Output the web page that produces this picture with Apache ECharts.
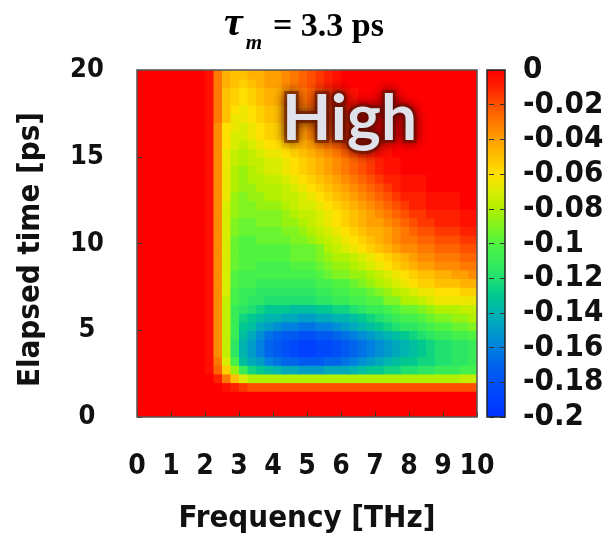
<!DOCTYPE html>
<html><head><meta charset="utf-8">
<script src="https://cdn.jsdelivr.net/npm/echarts@6/dist/echarts.min.js"></script>
<style>html,body{margin:0;padding:0;background:#fff}#c{width:614px;height:539px}</style>
</head><body><div id="c"></div>
<script>
// tick labels
const freqTicks = [0, 1, 2, 3, 4, 5, 6, 7, 8, 9, 10];
const timeTicks = [0, 5, 10, 15, 20];
const colorbarTicks = ['0', '-0.02', '-0.04', '-0.06', '-0.08', '-0.1', '-0.12', '-0.14', '-0.16', '-0.18', '-0.2'];

// cell centres: frequency 0.125..9.875 THz (0.25 steps), elapsed time 0.25..19.75 ps (0.5 steps)
const freqCells = Array.from({length: 40}, (_, i) => (0.125 + 0.25 * i).toFixed(3));
const timeCells = Array.from({length: 40}, (_, j) => (0.25 + 0.5 * j).toFixed(2));

// read-off magnitudes in units of 0.01 (value = -m/100); rows from t=0.25 (bottom) to t=19.75 (top)
const rowsHundredths = [
"0 0 0 0  0 0 0 0  0 0 0 0  0 0 0 0  0 0 0 0  0 0 0 0  0 0 0 0  0 0 0 0  0 0 0 0  0 0 0 0",
"0 0 0 0  0 0 0 0  0 0 0 0  0 0 0 0  0 0 0 0  0 0 0 0  0 0 0 0  0 0 0 0  0 0 0 0  0 0 0 0",
"0 0 0 0  0 0 0 0  0 0 0 0  0 0 0 0  0 0 0 0  0 0 0 0  0 0 0 0  0 0 0 0  0 0 0 0  0 0 0 0",
"0 0 0 0  0 0 0 0  0 0 0.5 1  1.5 2 2 2  2 2 2 2  2 2 2 2  2 2 2 2  2 2 2 2  2 2 2 2  2 2 2 2",
"0 0 0 0  0 0 0 0  0 1 3 5  7 8 8 8  8 8 8 8  8 8 8 8  8 8 8 8  8 8 8 8  8 8 8 8  8 8 7.5 7.5",
"0 0 0 0  0 0 0 0  0.5 2.5 5.5 8.5  11 12.5 13 13.5  14 14.5 14.5 15  15 15 14.5 14.5  14.5 14 13.5 13  13 12.5 12.5 12  12 11.5 11.5 11  11 11 10.5 10.5",
"0 0 0 0  0 0 0 0  0.5 3 7 10.5  13.5 14.5 15 16  16.5 17 17 17.5  17.5 17.5 17 17  16.5 16 15.5 15  14.5 14 13.5 13  13 12.5 12.5 12  12 11.5 11.5 11",
"0 0 0 0  0 0 0 0  0.5 3.5 7.5 11.5  14 15 16 17  17.5 18 18.5 19  19 18.5 18.5 18  17.5 17 16.5 16  15.5 15 14.5 14  13.5 13 12.5 12  12 11.5 11.5 11",
"0 0 0 0  0 0 0 0  0.5 3.5 7.5 11.5  14 15 16 17  17.5 18 18.5 19  19 18.5 18.5 18  17.5 17 16.5 16  15.5 15 14.5 14  13.5 13 12.5 12  12 11.5 11.5 11",
"0 0 0 0  0 0 0 0  0.5 3.5 7.5 11  13.5 14.5 15.5 16.5  17 17.5 17.5 18  18 17.5 17.5 17  16.5 16 15.5 15  14.5 14 13.5 13  12.5 12 11.5 11  11 10.5 10.5 10",
"0 0 0 0  0 0 0 0  0.5 3.5 7.5 11  13 13.5 14.5 15  15.5 16 16 16.5  16.5 16 16 15.5  15 14.5 14 13.5  13 12.5 12 11.5  11.5 11 10.5 10  10 9.5 9.5 9",
"0 0 0 0  0 0 0 0  0.5 3.5 7.5 11  12.5 13 13.5 14  14 14.5 14.5 15  15 14.5 14.5 14  14 13.5 13 12.5  12 11.5 11 10.5  10.5 10 9.5 9  9 8.5 8.5 8",
"0 0 0 0  0 0 0 0  0.5 3.5 7.5 11  11.5 12 12.5 13  13 13 13.5 13.5  13.5 13 13 12.5  12.5 12 11.5 11  11 10.5 10 9.5  9.5 9 8.5 8  8 8 7.5 7.5",
"0 0 0 0  0 0 0 0  0.5 3.5 7.5 10.5  11 11.5 11.5 12  12 12 12 12  12 11.5 11.5 11  11 10.5 10.5 10  10 9 9 8  8 7.5 7 6.5  6.5 6.5 6.5 6.5",
"0 0 0 0  0 0 0 0  0.5 3.5 7 10.5  11 11 11.5 11.5  11.5 11.5 11.5 11.5  11.5 11 11 10.5  10.5 10 10 9.5  9 8.5 8 7.5  7 6.5 6.5 6  6 6 5.5 5.5",
"0 0 0 0  0 0 0 0  0.5 3.5 7 10  10.5 10.5 11 11  11 11 11 11  11 10.5 10.5 10  10 9.5 9 8.5  8 7.5 7 6.5  6 5.5 5.5 5  5 5 4.5 4.5",
"0 0 0 0  0 0 0 0  0.5 3.5 7 10  10.5 10.5 10.5 10.5  10.5 10.5 10.5 10.5  10.5 10 9.5 9  9 8.5 8.5 8  7.5 7 6.5 6  5.5 5 5 4.5  4.5 4 4 3.5",
"0 0 0 0  0 0 0 0  0.5 3.5 7 9.5  10 10 10.5 10.5  10.5 10.5 10 10  10 9.5 9 8.5  8.5 8 7.5 7  6.5 6 5.5 5  4.5 4 4 3.5  3.5 3.5 3 3",
"0 0 0 0  0 0 0 0  0.5 3.5 7 9.5  10 10 10 10  10 10 9.5 9.5  9.5 9 8.5 8  8 7.5 7 6.5  6 5.5 5 4.5  4 3.5 3.5 3  3 3 2.5 2.5",
"0 0 0 0  0 0 0 0  0.5 3.5 7 9.5  10 10 10 10  10 10 9.5 9.5  9.5 9 8 7.5  7 6.5 6 5.5  5 4.5 4 3.5  3.5 3 3 2.5  2.5 2.5 2 2",
"0 0 0 0  0 0 0 0  0.5 3.5 7 9.5  10 10 9.5 9.5  9.5 9.5 9 9  8.5 8 7.5 7  6.5 6 5.5 5  4.5 4 3.5 3  3 2.5 2.5 2  2 2 1.5 1.5",
"0 0 0 0  0 0 0 0  0.5 3.5 7 9  9.5 9.5 9.5 9.5  9.5 9 9 8.5  8 7.5 7 6.5  6 5.5 5 4.5  4.5 4 3.5 3  2.5 2 2 1.5  1.5 1.5 1 1",
"0 0 0 0  0 0 0 0  0.5 3.5 7 9  9.5 9.5 9 9  9 8.5 8.5 8  7.5 7 6.5 6  5.5 5 4.5 4  4 3.5 3 2.5  2 1.5 1.5 1  1 1 0.5 0.5",
"0 0 0 0  0 0 0 0  0.5 3.5 7 8.5  9 9 9 9  9 8.5 8 7.5  7.5 7 6.5 6  5.5 5 4.5 4  3.5 3 2.5 2  1.5 1.5 1 1  1 1 0.5 0.5",
"0 0 0 0  0 0 0 0  0.5 3.5 7 8.5  9 9 8.5 8.5  8.5 8 7.5 7  7 6.5 6 5.5  5 4.5 4 3.5  3 2.5 2 1.5  1 1 0.5 0.5  0.5 0.5 0 0",
"0 0 0 0  0 0 0 0  0.5 3.5 6.5 8.5  9 8.5 8.5 8  8 7.5 7.5 7  6.5 6 5.5 5  4.5 4 3.5 3  2.5 2 1.5 1  1 1 0.5 0.5  0.5 0.5 0 0",
"0 0 0 0  0 0 0 0  0.5 3.5 6.5 8  8.5 8.5 8 8  8 7.5 7 6.5  6 5.5 5 4.5  4 3.5 3 2.5  2 1.5 1 0.5  0.5 0.5 0 0  0 0 0 0",
"0 0 0 0  0 0 0 0  0.5 3.5 6.5 8  8.5 8 8 7.5  7.5 7 6.5 6  5.5 5 4.5 4  3.5 3 2.5 2  1.5 1 1 0.5  0.5 0.5 0 0  0 0 0 0",
"0 0 0 0  0 0 0 0  0.5 3.5 6.5 8  8.5 8 7.5 7  7 6.5 6 5.5  5 4.5 4 3.5  3 2.5 2 1.5  1 0.5 0.5 0  0 0 0 0  0 0 0 0",
"0 0 0 0  0 0 0 0  0.5 3.5 6.5 7.5  8 7.5 7.5 7  7 6.5 6 5.5  5 4.5 4 3.5  3 2.5 2 1.5  1 0.5 0.5 0  0 0 0 0  0 0 0 0",
"0 0 0 0  0 0 0 0  0.5 3.5 6.5 7.5  8 7.5 7 6.5  6.5 6 5.5 5  4.5 4 3.5 3  2.5 2 1.5 1  0.5 0.5 0 0  0 0 0 0  0 0 0 0",
"0 0 0 0  0 0 0 0  0.5 3.5 6 7  7.5 7 6.5 6  6 5.5 5 4.5  4 3.5 3 2.5  2 1.5 1 0.5  0.5 0.5 0 0  0 0 0 0  0 0 0 0",
"0 0 0 0  0 0 0 0  0.5 3.5 6 7  7 6.5 6 5.5  5.5 5 4.5 4  3.5 3 2.5 2  1.5 1 0.5 0  0 0 0 0  0 0 0 0  0 0 0 0",
"0 0 0 0  0 0 0 0  0.5 3.5 6 6.5  7 6.5 6 5.5  5.5 5 4.5 4  3.5 3 2.5 2  1.5 1 0.5 0  0 0 0 0  0 0 0 0  0 0 0 0",
"0 0 0 0  0 0 0 0  0.5 3 5 6.5  6.5 6 5.5 5  5 4.5 4 3.5  3 2.5 2 1.5  1.5 1 0.5 0  0 0 0 0  0 0 0 0  0 0 0 0",
"0 0 0 0  0 0 0 0  0.5 3 5 6  6.5 6 5.5 5  5 4.5 4 3.5  3 2.5 2 1.5  1 0.5 0.5 0  0 0 0 0  0 0 0 0  0 0 0 0",
"0 0 0 0  0 0 0 0  0.5 3 5 5.5  6 5.5 5 4.5  4.5 4 3.5 3  2.5 2 1.5 1  0.5 0.5 0 0  0 0 0 0  0 0 0 0  0 0 0 0",
"0 0 0 0  0 0 0 0  0.5 3 5 5.5  6 5.5 5 4.5  4.5 4 3.5 3  2.5 2 1.5 1  0.5 0.5 0 0  0 0 0 0  0 0 0 0  0 0 0 0",
"0 0 0 0  0 0 0 0  0.5 3 4.5 5  5.5 5 4.5 4  4 3.5 3 2.5  2 1.5 1 0.5  0 0 0 0  0 0 0 0  0 0 0 0  0 0 0 0",
"0 0 0 0  0 0 0 0  0.5 3 4.5 5  5 4.5 4.5 4  4 3.5 3 2.5  2 1.5 1 0.5  0 0 0 0  0 0 0 0  0 0 0 0  0 0 0 0"
];

// colour stops from -0.20 (first) to 0 (last), every 0.01
const colorStops = ['#0030ff', '#0040ff', '#0050f8', '#0064ec', '#0080e0', '#009cc8', '#00b4b0', '#00c890', '#20e070', '#38ec58',
                    '#50f440', '#80f420', '#b0f000', '#d8ec00', '#ffe000', '#ffc000', '#ffa000', '#ff7800', '#ff5000', '#ff2000', '#ff0000'];

const heatData = [];
rowsHundredths.forEach((row, j) => {
  const vals = row.trim().split(/\s+/).map(Number);
  if (vals.length !== 40) throw new Error('row ' + j + ' has ' + vals.length);
  vals.forEach((m, i) => heatData.push([i, j, -m / 100]));
});

const tickFont = "'DejaVu Sans Condensed', 'DejaVu Sans'";
const chart = echarts.init(document.getElementById('c'), null, {renderer: 'canvas'});
chart.setOption({
  animation: false,
  backgroundColor: '#ffffff',
  title: {
    text: '{t|τ}{s|m}{e|= 3.3 ps}',
    left: 224, top: 13, padding: 0,
    textStyle: {
      rich: {
        t: {fontFamily: 'Liberation Serif', fontStyle: 'italic', fontWeight: 'bold', fontSize: 42, color: '#000',
            lineHeight: 42, verticalAlign: 'bottom', padding: [0, 0, 10, 0]},
        s: {fontFamily: 'Liberation Serif', fontStyle: 'italic', fontWeight: 'bold', fontSize: 21, color: '#000',
            lineHeight: 21, verticalAlign: 'bottom', padding: [0, 2, 1, 3]},
        e: {fontFamily: 'Liberation Serif', fontWeight: 'bold', fontSize: 34, color: '#000',
            lineHeight: 34, verticalAlign: 'bottom', padding: [0, 0, 11, 9]}
      }
    }
  },
  grid: [
    {left: 137, top: 70, width: 340, height: 347},
    {left: 487, top: 70, width: 18, height: 347}
  ],
  xAxis: [
    {type: 'category', gridIndex: 0, data: freqCells, show: false},
    {type: 'value', gridIndex: 0, min: 0, max: 10, interval: 1, position: 'bottom', z: 5,
     axisLine: {show: false}, splitLine: {show: false},
     axisTick: {show: true, inside: true, length: 5, lineStyle: {color: '#333'}},
     axisLabel: {margin: 36, fontSize: 28, fontWeight: 'bold', fontFamily: tickFont, color: '#111',
                 formatter: v => String(freqTicks[Math.round(v)])},
     name: 'Frequency [THz]', nameLocation: 'middle', nameGap: 86,
     nameTextStyle: {fontSize: 31, fontFamily: tickFont, fontWeight: 'bold', color: '#111'}},
    {type: 'category', gridIndex: 1, data: [''], show: false}
  ],
  yAxis: [
    {type: 'category', gridIndex: 0, data: timeCells, show: false},
    {type: 'value', gridIndex: 0, min: 0, max: 20, interval: 5, position: 'left', z: 5,
     axisLine: {show: false}, splitLine: {show: false},
     axisTick: {show: true, inside: true, length: 5, lineStyle: {color: '#333'}},
     axisLabel: {margin: 50, align: 'center', fontSize: 27, fontWeight: 'bold', fontFamily: tickFont, color: '#111',
                 formatter: v => String(timeTicks[Math.round(v / 5)])},
     name: 'Elapsed time [ps]', nameLocation: 'middle', nameGap: 91, nameRotate: 90,
     nameTextStyle: {fontSize: 31, fontFamily: tickFont, fontWeight: 'bold', color: '#111', padding: [0, 12, 0, 0]}},
    {type: 'value', gridIndex: 1, min: -0.2, max: 0, interval: 0.02, position: 'right', z: 5,
     axisLine: {show: false}, splitLine: {show: false},
     axisTick: {show: true, inside: true, length: 18, lineStyle: {color: '#333', type: [5, 6], width: 1}},
     axisLabel: {margin: 18, fontSize: 31, fontWeight: 'bold', fontFamily: tickFont, color: '#111',
                 formatter: v => colorbarTicks[Math.round(-v / 0.02)]}}
  ],
  visualMap: {
    type: 'continuous', min: -0.2, max: 0, dimension: 2, seriesIndex: 0, calculable: false, show: true,
    left: 487, top: 70, itemWidth: 18, itemHeight: 347, padding: 0, text: null, showLabel: false,
    inRange: {color: colorStops}
  },
  series: [{
    type: 'custom', xAxisIndex: 0, yAxisIndex: 0, data: heatData, encode: {x: 0, y: 1}, clip: true,
    renderItem: (params, api) => {
      const c = api.coord([api.value(0), api.value(1)]);
      const s = api.size([1, 1]);
      return {type: 'rect', shape: {x: c[0] - s[0] / 2, y: c[1] - s[1] / 2, width: s[0] + 0.8, height: s[1] + 0.8},
              style: {fill: api.visual('color')}};
    }
  }],
  graphic: [
    {type: 'rect', shape: {x: 137, y: 70, width: 340, height: 347}, style: {fill: 'none', stroke: '#555', lineWidth: 1.5}, z: 50},
    {type: 'rect', shape: {x: 487, y: 70, width: 18, height: 347}, style: {fill: 'none', stroke: '#222', lineWidth: 1.5}, z: 50},
    {type: 'text', x: 282, y: 87, z: 59,
     style: {text: 'High', font: 'bold 64px Lato', fill: 'rgba(100,25,0,0.85)', stroke: 'rgba(100,25,0,0.55)', lineWidth: 6,
             shadowColor: 'rgba(70,5,0,1)', shadowBlur: 12, textShadowColor: 'rgba(70,5,0,1)', textShadowBlur: 12}},
    {type: 'text', x: 282, y: 87, z: 60,
     style: {text: 'High', font: 'bold 64px Lato', fill: '#dfe2ea'}}
  ]
});
</script>
</body></html>
